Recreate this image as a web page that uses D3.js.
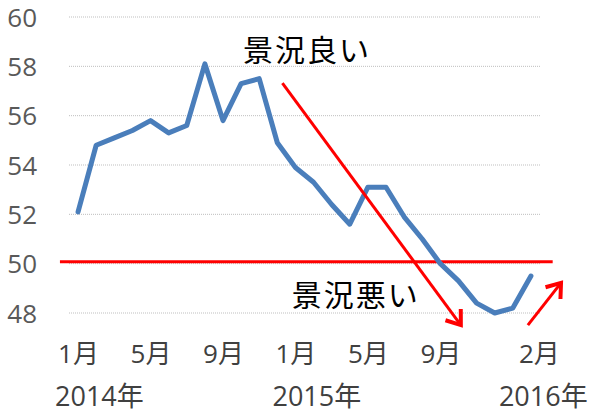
<!DOCTYPE html>
<html><head><meta charset="utf-8">
<script src="https://cdn.jsdelivr.net/npm/d3@7"></script>
<style>
html,body{margin:0;padding:0;background:#fff;}
svg{display:block;}
</style></head>
<body>
<svg id="chart" width="600" height="414"></svg>
<script>
// Data: monthly index Jan 2014 - Feb 2016
const months = ["2014-01","2014-02","2014-03","2014-04","2014-05","2014-06","2014-07","2014-08","2014-09","2014-10","2014-11","2014-12",
  "2015-01","2015-02","2015-03","2015-04","2015-05","2015-06","2015-07","2015-08","2015-09","2015-10","2015-11","2015-12",
  "2016-01","2016-02"];
const values = [52.1,54.8,55.1,55.4,55.8,55.3,55.6,58.1,55.8,57.3,57.5,54.9,
  53.9,53.3,52.4,51.6,53.1,53.1,51.9,51.0,50.0,49.3,48.4,48.0,48.2,49.5];
const yTicks = [48,50,52,54,56,58,60];
const monthTickIdx = [0,4,8,12,16,20,25];
const monthTickLabels = ["1月","5月","9月","1月","5月","9月","2月"];
const yearLabels = ["2014年","2015年","2016年"];
const yearLabelIdx = [0,12,24.5];
const thresholdValue = 50;
const thresholdSpan = [-1.0, 26.2];
// arrows in (month index, value) coordinates
const arrowDown = [[11.28,57.32],[21.13,47.51]];
const arrowUp = [[24.83,47.51],[26.66,49.22]];
const annotations = [
  {text:"景況良い", idx:9.1, value:58.22},
  {text:"景況悪い", idx:11.8, value:48.3}
];

const svg = d3.select("#chart");
const gridLeft = 69, gridRight = 540;
const band = d3.scaleBand().domain(d3.range(months.length)).range([gridLeft, gridRight]);
const bw = band.bandwidth();
const x = d3.scaleLinear().domain([0, months.length-1]).range([band(0)+bw/2, band(months.length-1)+bw/2]);
const y = d3.scaleLinear().domain([48,60]).range([313,17]);

const numFont = "'Open Sans','Noto Sans CJK JP',sans-serif";
const jpFont = "'Noto Sans CJK JP',sans-serif";

// gridlines
svg.append("g").selectAll("line").data(yTicks).join("line")
  .attr("x1", gridLeft).attr("x2", gridRight)
  .attr("y1", d=>y(d)).attr("y2", d=>y(d))
  .attr("stroke", "#bfbfbf").attr("stroke-width", 1).attr("stroke-dasharray", "1,1");

// y axis labels
const yAxis = d3.axisLeft(y).tickValues(yTicks).tickSize(0).tickPadding(0);
const gy = svg.append("g").attr("transform", "translate(37,0)").call(yAxis);
gy.select(".domain").remove();
gy.selectAll("text").attr("font-family", numFont).attr("font-size", 26).attr("fill", "#595959").attr("dy","0.35em");

// x month labels
const xAxis = d3.axisBottom(x).tickValues(monthTickIdx).tickFormat((d,i)=>monthTickLabels[i]).tickSize(0).tickPadding(0);
const gx = svg.append("g").attr("transform", "translate(0,354)").call(xAxis);
gx.select(".domain").remove();
gx.selectAll("text").attr("font-family", numFont).attr("font-size", 26).attr("fill", "#404040")
  .attr("dy","0.35em").attr("dx", (d,i)=> i===monthTickIdx.length-1 ? 8 : 0);

// year labels
svg.append("g").selectAll("text").data(yearLabels).join("text")
  .attr("x", (d,i)=>x(yearLabelIdx[i]) - 23).attr("y", 406)
  .attr("font-family", numFont).attr("font-size", 27).attr("fill", "#404040")
  .text(d=>d);

// threshold line
svg.append("line")
  .attr("x1", x(thresholdSpan[0])).attr("x2", x(thresholdSpan[1]))
  .attr("y1", y(thresholdValue)-2).attr("y2", y(thresholdValue)-2)
  .attr("stroke", "#ff0000").attr("stroke-width", 3);

// data line
const line = d3.line().x((d,i)=>x(i)).y(d=>y(d));
svg.append("path").datum(values).attr("d", line)
  .attr("fill","none").attr("stroke","#4a7ebb").attr("stroke-width",5)
  .attr("stroke-linejoin","round").attr("stroke-linecap","round");

// arrows
const defs = svg.append("defs");
defs.append("marker").attr("id","ah").attr("viewBox","0 0 24 24").attr("refX",19).attr("refY",12)
  .attr("markerUnits","userSpaceOnUse")
  .attr("markerWidth",24).attr("markerHeight",24).attr("orient","auto")
  .append("path").attr("d","M6,2.5 L19,12 L6,21.5").attr("fill","none").attr("stroke","#ff0000")
  .attr("stroke-width",4).attr("stroke-linejoin","miter");
[arrowDown, arrowUp].forEach(a=>{
  svg.append("line")
    .attr("x1", x(a[0][0])).attr("y1", y(a[0][1]))
    .attr("x2", x(a[1][0])).attr("y2", y(a[1][1]))
    .attr("stroke","#ff0000").attr("stroke-width",3)
    .attr("marker-end","url(#ah)");
});

// annotations
svg.append("g").selectAll("text").data(annotations).join("text")
  .attr("x", d=>x(d.idx)).attr("y", d=>y(d.value))
  .attr("font-family", jpFont).attr("font-size", 30).attr("letter-spacing", 2).attr("fill", "#000")
  .text(d=>d.text);
</script>
</body></html>
